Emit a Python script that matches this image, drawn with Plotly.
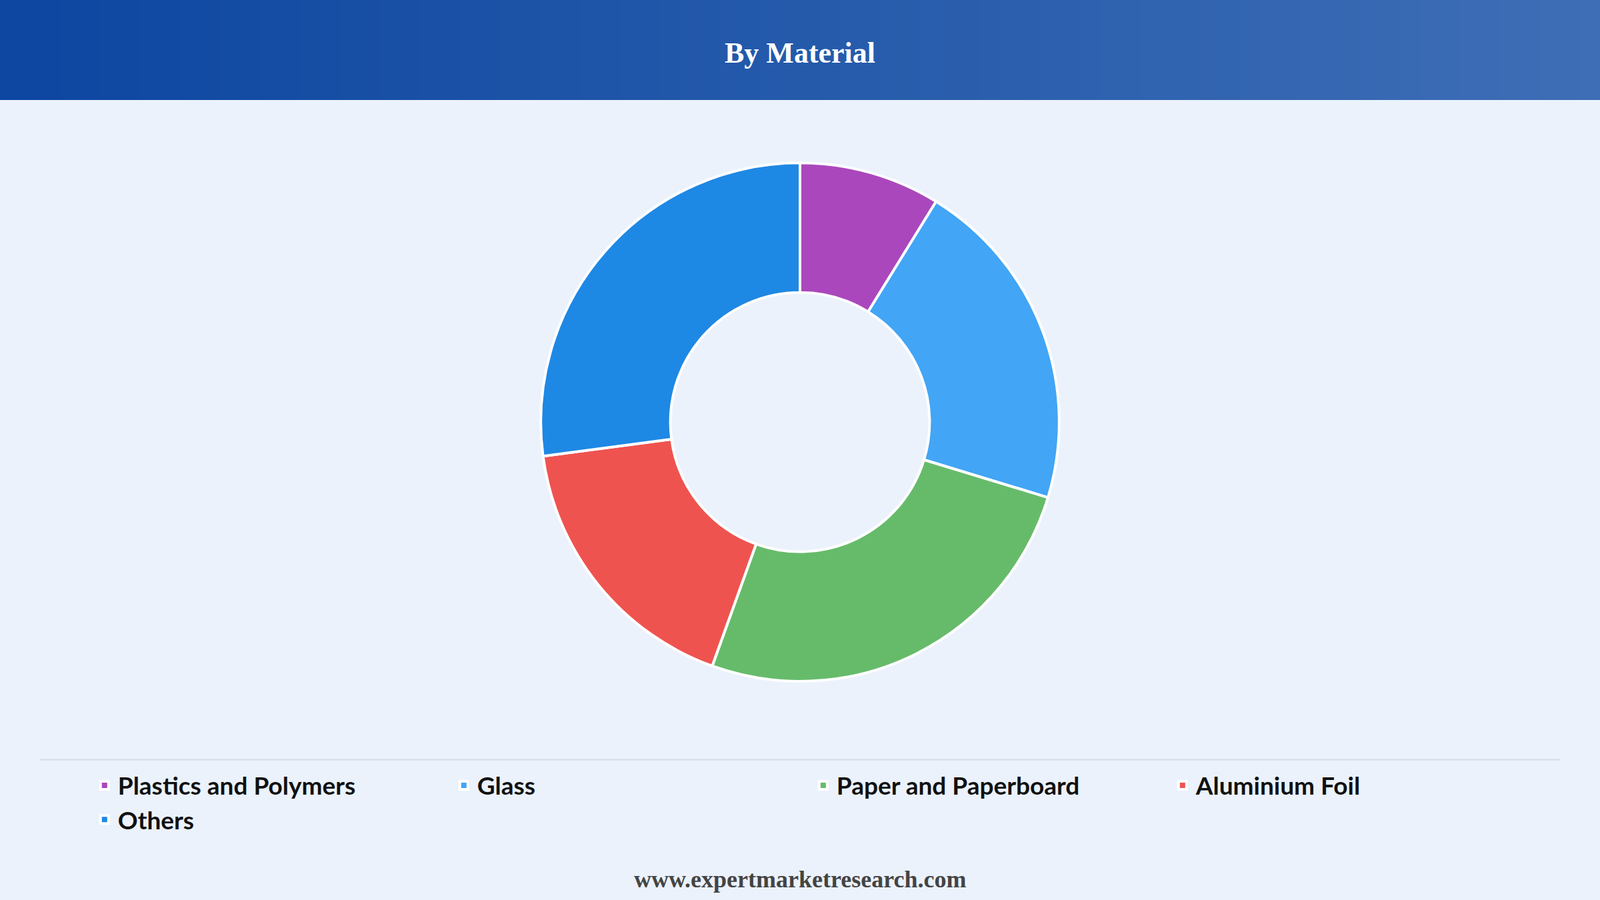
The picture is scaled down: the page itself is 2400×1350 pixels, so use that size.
import plotly.graph_objects as go

categories = ["Plastics and Polymers", "Glass", "Paper and Paperboard", "Aluminium Foil", "Others"]
values = [8.8, 20.9, 25.8, 17.4, 27.1]
colors = ["#AB47BC", "#42A5F5", "#66BB6A", "#EF5350", "#1E88E5"]

fig = go.Figure(go.Pie(
    labels=categories, values=values, hole=0.5, sort=False, direction="clockwise",
    rotation=0, textinfo="none", hoverinfo="label+percent",
    marker=dict(colors=colors, line=dict(color="white", width=4)),
    domain=dict(x=[0.3, 0.7], y=[0.243, 0.819]),
))

shapes = []
n = 80
c0 = (13, 71, 161); c1 = (62, 110, 182)
for i in range(n):
    t = i / (n - 1)
    c = tuple(int(c0[k] + (c1[k] - c0[k]) * t) for k in range(3))
    shapes.append(dict(type="rect", xref="paper", yref="paper", x0=i / n, x1=(i + 1) / n + 0.001,
                       y0=1 - 150 / 1350, y1=1, fillcolor="rgb(%d,%d,%d)" % c, line=dict(width=0), layer="below"))
shapes.append(dict(type="line", xref="paper", yref="paper", x0=0.025, x1=0.975, y0=0.156, y1=0.156,
                   line=dict(color="#D5DCE6", width=2)))

fig.update_layout(
    width=2400, height=1350, margin=dict(l=0, r=0, t=0, b=0),
    paper_bgcolor="#EBF2FC", plot_bgcolor="#EBF2FC", shapes=shapes,
    showlegend=True,
    legend=dict(orientation="h", x=0.057, y=0.150, xanchor="left", yanchor="top",
                entrywidth=494, entrywidthmode="pixels", itemwidth=30,
                font=dict(family="Lato", size=37, color="#111111", weight="bold"), tracegroupgap=0),
    annotations=[
        dict(text="<b>By Material</b>", xref="paper", yref="paper", x=0.5, y=1 - 80 / 1350,
             yanchor="middle", showarrow=False, font=dict(family="Liberation Serif", size=44, color="white")),
        dict(text="<b>www.expertmarketresearch.com</b>", xref="paper", yref="paper", x=0.5, y=1 - 1319 / 1350,
             yanchor="middle", showarrow=False, font=dict(family="Liberation Serif", size=36, color="#444444")),
    ],
)
fig.write_html("out.html", config={"displayModeBar": False},
               post_script="document.body.style.margin='0';document.body.style.padding='0';")
